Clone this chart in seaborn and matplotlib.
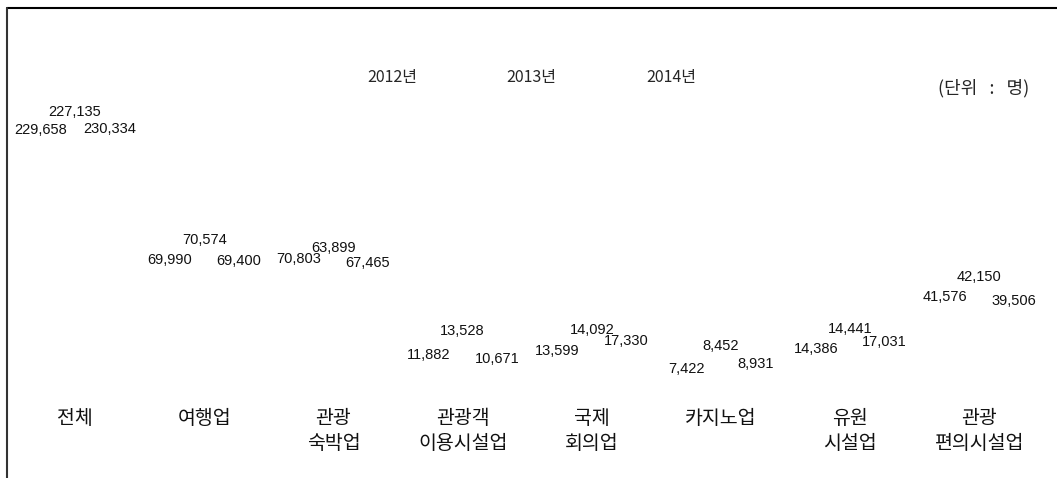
import numpy as np
import pandas as pd
import matplotlib.pyplot as plt
import seaborn as sns
from matplotlib.lines import Line2D

# 관광사업체 종사자 수 (단위: 명)
categories = ["전체", "여행업", "관광\n숙박업", "관광객\n이용시설업", "국제\n회의업",
              "카지노업", "유원\n시설업", "관광\n편의시설업"]
years = ["2012년", "2013년", "2014년"]
v2012 = [229658, 69990, 70803, 11882, 13599, 7422, 14386, 41576]
v2013 = [227135, 70574, 63899, 13528, 14092, 8452, 14441, 42150]
v2014 = [230334, 69400, 67465, 10671, 17330, 8931, 17031, 39506]

df = pd.DataFrame({
    "업종": categories * 3,
    "연도": [years[0]] * 8 + [years[1]] * 8 + [years[2]] * 8,
    "종사자수": v2012 + v2013 + v2014,
})

sns.set_style("white")
plt.rcParams["font.family"] = ["Noto Sans CJK KR", "DejaVu Sans"]

fig = plt.figure(figsize=(10.57, 4.78), dpi=100)
ax = fig.add_axes([0.0098, 0.1004, 0.978, 0.858])

sns.barplot(data=df, x="업종", y="종사자수", hue="연도", ax=ax,
            palette=["white", "white", "white"], edgecolor="none", width=0.8)
# 원본처럼 막대는 보이지 않게
for p in ax.patches:
    p.set_alpha(0)

# 막대 높이는 제곱근 축으로
ax.set_yscale("function", functions=(lambda x: np.sqrt(np.clip(x, 0, None)), np.square))
ax.set_ylim(0, 453000)

# 가운데(2013년) 라벨은 겹치지 않게 조금 위로
pads = [1, 15, 1]
for cont, pad in zip(ax.containers, pads):
    ax.bar_label(cont, labels=[f"{int(b.get_height()):,}" for b in cont], padding=pad,
                 fontsize=10.5, family=["Liberation Sans", "DejaVu Sans"], color="#111111")

for s in ax.spines.values():
    s.set_visible(False)
ax.set_yticks([])
ax.set_xlabel("")
ax.set_ylabel("")
ax.tick_params(axis="x", length=0, pad=-16, labelsize=14, labelcolor="#111111")
for t in ax.get_xticklabels():
    t.set_linespacing(1.25)

handles, labels = ax.get_legend_handles_labels()
ax.get_legend().remove()
fig.legend(handles, labels, loc="center", bbox_to_anchor=(0.503, 0.837), ncol=3,
           frameon=False, handlelength=0, handletextpad=0, columnspacing=5.6, fontsize=11.5)

fig.text(0.931, 0.815, "(단위   :   명)", ha="center", va="center", fontsize=13)

# 바깥 테두리
fig.add_artist(Line2D([0.0066, 1], [0.983, 0.983], transform=fig.transFigure, color="black", lw=1.5))
fig.add_artist(Line2D([0.0066, 0.0066], [0, 0.983], transform=fig.transFigure, color="#333333", lw=1.5))

fig.savefig("out.png", dpi=100)
